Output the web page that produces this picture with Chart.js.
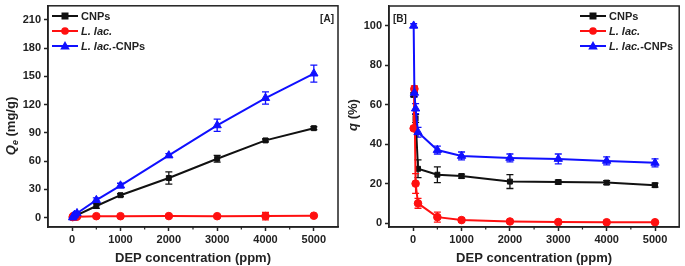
<!DOCTYPE html>
<html lang="en">
  <head>
    <meta charset="UTF-8" />
    <title>DEP adsorption</title>
    <script src="https://cdn.jsdelivr.net/npm/chart.js"></script>
    <style>
      body {
        margin: 0;
        background: #fff;
        width: 685px;
        height: 266px;
        position: relative;
        overflow: hidden;
      }
      #wrapA {
        position: absolute;
        left: 0;
        top: 0;
        width: 345px;
        height: 266px;
      }
      #wrapB {
        position: absolute;
        left: 343px;
        top: 0;
        width: 342px;
        height: 266px;
      }
    </style>
  </head>
  <body>
    <div id="wrapA"><canvas id="chartA"></canvas></div>
    <div id="wrapB"><canvas id="chartB"></canvas></div>
    <script>
      const concentrations = [10, 25, 50, 100, 500, 1000, 2000, 3000, 4000, 5000];
      const xTicks = [0, 1000, 2000, 3000, 4000, 5000];

      // panel A: Qe (mg/g)
      const qeCNPs = [0.1, 0.3, 0.5, 2.7, 12.3, 23.8, 42, 62.5, 82, 95];
      const qeLlac = [0.5, 1.7, 1.0, 1.0, 1.5, 1.5, 1.6, 1.5, 1.6, 2.0];
      const qeLlacCNPs = [0.1, 1.7, 2.9, 4.6, 18.5, 34, 66, 98, 127, 153];
      const qeErrCNPs = [0, 0, 0, 0.5, 2.5, 1.5, 6.5, 3.5, 1.5, 1.5];
      const qeErrLlac = [0, 0, 0, 0, 0.5, 0.5, 0.5, 0.5, 4, 0.5];
      const qeErrLlacCNPs = [0, 0, 0.5, 1, 2.5, 2.5, 2, 6.5, 6.5, 9];
      const yTicksA = [0, 30, 60, 90, 120, 150, 180, 210];

      // panel B: q (%)
      const qCNPs = [65, 67, 53, 27.5, 24.5, 23.8, 21, 20.8, 20.5, 19.2];
      const qLlac = [48, 68, 20, 10, 3, 1.5, 0.8, 0.5, 0.4, 0.4];
      const qLlacCNPs = [100, 66, 58, 46, 37, 34, 33, 32.5, 31.5, 30.5];
      const qErrCNPs = [1, 1, 2, 4.5, 4, 1, 3.5, 1, 1, 1];
      const qErrLlac = [1, 1.5, 5, 2.5, 2.5, 1, 0.5, 0.3, 0.3, 0.3];
      const qErrLlacCNPs = [1, 2, 2.5, 2.5, 2, 2, 2, 2.5, 2, 2];
      const yTicksB = [0, 20, 40, 60, 80, 100];

      const FONT = "'Liberation Sans', Arial, sans-serif";
      const AXIS = "#222";
      const BLACK = "#111111";
      const RED = "#ff1010";
      const BLUE = "#1010ff";

      const legendItems = [
        { color: BLACK, style: "rect", parts: [["CNPs", false]] },
        { color: RED, style: "circle", parts: [["L. lac.", true]] },
        { color: BLUE, style: "triangle", parts: [["L. lac.", true], ["-CNPs", false]] },
      ];

      function makeSet(label, ys, errs, color, style, radius, order) {
        return {
          label: label,
          data: concentrations.map((x, i) => ({ x: x, y: ys[i] })),
          errors: errs,
          borderColor: color,
          backgroundColor: color,
          borderWidth: 2,
          pointStyle: style,
          pointRadius: radius,
          pointBorderWidth: 1,
          tension: 0,
          order: order,
        };
      }

      function drawMarker(ctx, style, x, y, color) {
        ctx.fillStyle = color;
        ctx.beginPath();
        if (style === "rect") {
          ctx.rect(x - 3.5, y - 3.5, 7, 7);
        } else if (style === "circle") {
          ctx.arc(x, y, 3.8, 0, Math.PI * 2);
        } else {
          ctx.moveTo(x, y - 5);
          ctx.lineTo(x + 4.8, y + 3.5);
          ctx.lineTo(x - 4.8, y + 3.5);
          ctx.closePath();
        }
        ctx.fill();
      }

      const extras = {
        id: "extras",
        beforeDatasetsDraw(chart) {
          const ctx = chart.ctx;
          const xs = chart.scales.x;
          const ys = chart.scales.y;
          ctx.save();
          chart.data.datasets.forEach((ds) => {
            ctx.strokeStyle = ds.borderColor;
            ctx.lineWidth = 1.3;
            ds.data.forEach((p, i) => {
              const e = ds.errors[i];
              if (!e) return;
              const px = xs.getPixelForValue(p.x);
              const top = ys.getPixelForValue(p.y + e);
              const bot = ys.getPixelForValue(p.y - e);
              ctx.beginPath();
              ctx.moveTo(px, top);
              ctx.lineTo(px, bot);
              ctx.moveTo(px - 3.5, top);
              ctx.lineTo(px + 3.5, top);
              ctx.moveTo(px - 3.5, bot);
              ctx.lineTo(px + 3.5, bot);
              ctx.stroke();
            });
          });
          ctx.restore();
        },
        afterDraw(chart, args, opts) {
          const ctx = chart.ctx;
          const a = chart.chartArea;
          const xs = chart.scales.x;
          ctx.save();
          // frame
          ctx.strokeStyle = AXIS;
          ctx.lineWidth = 1.5;
          ctx.strokeRect(a.left, a.top, a.right - a.left, a.bottom - a.top);
          // minor x ticks
          ctx.lineWidth = 1.2;
          for (let v = -500; v <= 5500; v += 1000) {
            const px = xs.getPixelForValue(v);
            if (px <= a.left + 1 || px >= a.right - 1) continue;
            ctx.beginPath();
            ctx.moveTo(px, a.bottom);
            ctx.lineTo(px, a.bottom + 2.5);
            ctx.stroke();
          }
          // y title
          ctx.fillStyle = AXIS;
          ctx.translate(opts.titleX, opts.titleY);
          ctx.rotate(-Math.PI / 2);
          ctx.textBaseline = "alphabetic";
          let w = 0;
          opts.titleParts.forEach((pt) => {
            ctx.font = pt[1];
            w += ctx.measureText(pt[0]).width;
          });
          let cx = -w / 2;
          opts.titleParts.forEach((pt) => {
            ctx.font = pt[1];
            ctx.fillText(pt[0], cx, 5 + (pt[2] || 0));
            cx += ctx.measureText(pt[0]).width;
          });
          ctx.setTransform(1, 0, 0, 1, 0, 0);
          // legend
          legendItems.forEach((it, k) => {
            const y = opts.legendY + k * 15;
            const x0 = opts.legendX;
            ctx.strokeStyle = it.color;
            ctx.lineWidth = 2;
            ctx.beginPath();
            ctx.moveTo(x0, y);
            ctx.lineTo(x0 + 26, y);
            ctx.stroke();
            drawMarker(ctx, it.style, x0 + 13, y, it.color);
            ctx.fillStyle = AXIS;
            ctx.textBaseline = "middle";
            let tx = x0 + 29;
            it.parts.forEach((pt) => {
              ctx.font = (pt[1] ? "italic " : "") + "bold 11px " + FONT;
              ctx.fillText(pt[0], tx, y + 0.5);
              tx += ctx.measureText(pt[0]).width;
            });
          });
          // panel tag
          ctx.font = "bold 10px " + FONT;
          ctx.fillStyle = AXIS;
          ctx.textAlign = opts.tagAlign;
          ctx.fillText(opts.tag, opts.tagX, opts.tagY);
          ctx.restore();
        },
      };

      function makeChart(id, datasets, yMin, yMax, yTicks, axisWidth, padRight, padTop, extraOpts) {
        return new Chart(document.getElementById(id), {
          type: "line",
          data: { datasets: datasets },
          options: {
            responsive: true,
            maintainAspectRatio: false,
            animation: false,
            layout: { padding: { top: padTop, right: padRight, left: 0, bottom: 0 } },
            plugins: {
              legend: { display: false },
              tooltip: { enabled: false },
              extras: extraOpts,
            },
            scales: {
              x: {
                type: "linear",
                min: -500,
                max: 5500,
                afterBuildTicks: (s) => {
                  s.ticks = xTicks.map((v) => ({ value: v }));
                },
                afterFit: (s) => {
                  s.height = 39;
                  s.paddingLeft = 0;
                  s.paddingRight = 0;
                },
                grid: {
                  drawOnChartArea: false,
                  drawTicks: true,
                  tickLength: 4,
                  tickColor: AXIS,
                  tickWidth: 1.5,
                },
                border: { display: true, color: AXIS, width: 1.5 },
                ticks: {
                  color: AXIS,
                  font: { family: FONT, size: 11, weight: "bold" },
                  padding: 2,
                  maxRotation: 0,
                  callback: (v) => String(v),
                },
                title: {
                  display: true,
                  text: "DEP concentration (ppm)",
                  color: AXIS,
                  font: { family: FONT, size: 13, weight: "bold" },
                  padding: { top: 4, bottom: 0 },
                },
              },
              y: {
                min: yMin,
                max: yMax,
                afterBuildTicks: (s) => {
                  s.ticks = yTicks.map((v) => ({ value: v }));
                },
                afterFit: (s) => {
                  s.width = axisWidth;
                  s.paddingTop = 0;
                  s.paddingBottom = 0;
                },
                grid: {
                  drawOnChartArea: false,
                  drawTicks: true,
                  tickLength: 4,
                  tickColor: AXIS,
                  tickWidth: 1.5,
                },
                border: { display: true, color: AXIS, width: 1.5 },
                ticks: {
                  color: AXIS,
                  font: { family: FONT, size: 11, weight: "bold" },
                  padding: 3,
                  callback: (v) => String(v),
                },
              },
            },
          },
          plugins: [extras],
        });
      }

      makeChart(
        "chartA",
        [
          makeSet("CNPs", qeCNPs, qeErrCNPs, BLACK, "rect", 3.5, 3),
          makeSet("L. lac.", qeLlac, qeErrLlac, RED, "circle", 3.8, 2),
          makeSet("L. lac.-CNPs", qeLlacCNPs, qeErrLlacCNPs, BLUE, "triangle", 4.8, 1),
        ],
        -10, 225, yTicksA, 48, 7, 4,
        {
          titleX: 10,
          titleY: 126,
          titleParts: [
            ["Q", "italic bold 13px " + FONT],
            ["e", "italic bold 9px " + FONT, 3],
            [" (mg/g)", "bold 13px " + FONT],
          ],
          legendX: 52,
          legendY: 16,
          tag: "[A]",
          tagX: 334,
          tagY: 19,
          tagAlign: "right",
        }
      );

      makeChart(
        "chartB",
        [
          makeSet("CNPs", qCNPs, qErrCNPs, BLACK, "rect", 3.5, 3),
          makeSet("L. lac.", qLlac, qErrLlac, RED, "circle", 3.8, 2),
          makeSet("L. lac.-CNPs", qLlacCNPs, qErrLlacCNPs, BLUE, "triangle", 4.8, 1),
        ],
        -2, 110, yTicksB, 46, 4, 6,
        {
          titleX: 9,
          titleY: 115,
          titleParts: [
            ["q", "italic bold 13px " + FONT],
            [" (%)", "bold 13px " + FONT],
          ],
          legendX: 237,
          legendY: 16,
          tag: "[B]",
          tagX: 50,
          tagY: 19,
          tagAlign: "left",
        }
      );
    </script>
  </body>
</html>
